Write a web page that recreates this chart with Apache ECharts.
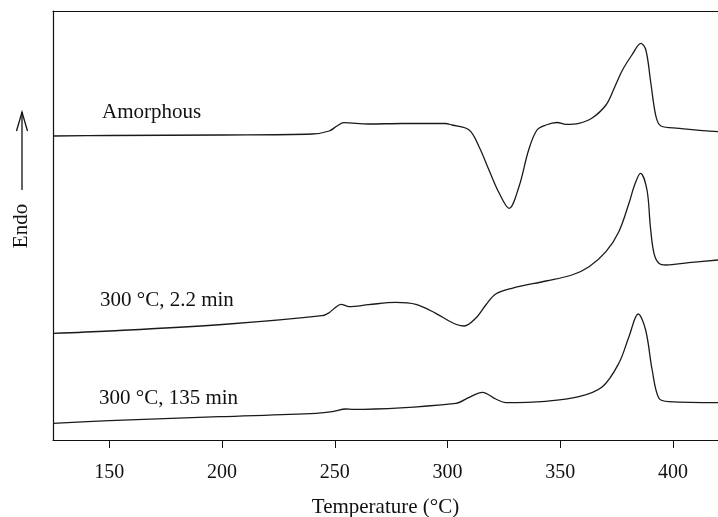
<!DOCTYPE html>
<html>
<head>
<meta charset="utf-8">
<script src="https://cdn.jsdelivr.net/npm/echarts@6/dist/echarts.min.js"></script>
<style>
  html, body { margin: 0; padding: 0; background: #fff; }
  #main { width: 718px; height: 517px; }
</style>
</head>
<body>
<div id="main"></div>
<script>
// DSC traces (y in arbitrary heat-flow units, endo up)
var tempAmorphous = [125, 150, 200, 240, 247.5, 251, 254, 265, 280, 299, 302, 309.6, 314, 318.4, 322.9, 327.3, 331.7, 336, 339.7, 343.7, 348.6, 352.6, 358.3, 364, 370.3, 374, 377.4, 381.8, 385.8, 388, 390.2, 392.5, 394.7, 402.7, 408.4, 420];
var heatAmorphous = [304, 304.5, 305, 306, 309, 314, 317.3, 316, 316.5, 316.5, 315, 310, 293.3, 270, 247, 231.7, 253.3, 290, 310, 315, 317.5, 315.7, 316.7, 321.7, 335, 352, 369, 385, 396.7, 390, 357, 323.3, 314, 311.7, 310.3, 308.3];

var temp22min = [125, 150, 203, 244.4, 247.5, 250, 252.7, 256.4, 265, 277, 286, 294.8, 300.7, 304, 307.4, 312.5, 317, 321.4, 328.6, 343.7, 355.2, 362.8, 370.3, 376, 380.5, 383, 385.6, 388.5, 390, 391.6, 393.8, 396.9, 407, 420];
var heat22min = [106.7, 109, 116, 124.3, 127.3, 132, 135.7, 133.3, 135.3, 137.7, 135.7, 126.7, 119, 115.5, 114, 121.7, 135, 146, 151.7, 159, 165, 173.3, 188.3, 208.3, 236.7, 255, 266.7, 250, 213.3, 186.7, 176.7, 175, 177.3, 180];

var temp135min = [125, 150, 198.8, 241.7, 248.9, 255, 257.7, 303.7, 309.6, 315.5, 321.4, 325.8, 343.6, 358.3, 368.7, 376, 380.5, 384.6, 387.9, 390.8, 393.8, 398.2, 420];
var heat135min = [16.7, 19.3, 23.3, 26.7, 28.3, 31, 30.7, 36.7, 42.7, 47.7, 41, 37.3, 38.7, 43.3, 53.3, 76.7, 103.3, 126, 110, 70, 41.7, 38.3, 37.3];

var traceNames = ['Amorphous', '300 °C, 2.2 min', '300 °C, 135 min'];
var xTicks = [150, 200, 250, 300, 350, 400];

var FONT = '"Liberation Serif", "DejaVu Serif", serif';

function pairs(xs, ys) {
    return xs.map(function(x, i) { return [x, ys[i]]; });
}

function trace(name, xs, ys) {
    return {
        name: name,
        type: 'line',
        data: pairs(xs, ys),
        smooth: 0.35,
        showSymbol: false,
        lineStyle: { color: '#1a1a1a', width: 1.3 }
    };
}

var chart = echarts.init(document.getElementById('main'));
chart.setOption({
    animation: false,
    grid: { left: 53, right: 0, top: 11, bottom: 77, containLabel: false, outerBoundsMode: 'none' },
    xAxis: [{
        type: 'value',
        min: 125,
        max: 420,
        name: 'Temperature (°C)',
        nameLocation: 'middle',
        nameGap: 57,
        nameTextStyle: { fontFamily: FONT, fontSize: 21, color: '#111' },
        axisLine: { lineStyle: { color: '#111', width: 1.2 } },
        axisTick: { show: true, length: 8, lineStyle: { color: '#111' }, customValues: xTicks },
        axisLabel: {
            fontFamily: FONT, fontSize: 20, color: '#111', margin: 23,
            customValues: xTicks
        },
        splitLine: { show: false }
    }, {
        type: 'value',
        position: 'top',
        min: 125,
        max: 420,
        axisLine: { show: true, onZero: false, lineStyle: { color: '#111', width: 1.2 } },
        axisTick: { show: false },
        axisLabel: { show: false },
        splitLine: { show: false }
    }],
    yAxis: {
        type: 'value',
        min: 0,
        max: 429,
        axisLine: { show: true, lineStyle: { color: '#111', width: 1.2 } },
        axisTick: { show: false },
        axisLabel: { show: false },
        splitLine: { show: false }
    },
    series: [
        trace(traceNames[0], tempAmorphous, heatAmorphous),
        trace(traceNames[1], temp22min, heat22min),
        trace(traceNames[2], temp135min, heat135min)
    ],
    graphic: [
        { type: 'text', left: 102, top: 102, style: { text: traceNames[0], font: '21px ' + FONT, fill: '#111' } },
        { type: 'text', left: 100, top: 290, style: { text: traceNames[1], font: '21px ' + FONT, fill: '#111' } },
        { type: 'text', left: 99, top: 388, style: { text: traceNames[2], font: '21px ' + FONT, fill: '#111' } },
        // "Endo" with upward arrow
        { type: 'text', x: 21, y: 226, rotation: Math.PI / 2,
          style: { text: 'Endo', font: '21px ' + FONT, fill: '#111', align: 'center', verticalAlign: 'middle' } },
        { type: 'line', shape: { x1: 22, y1: 190, x2: 22, y2: 112 }, style: { stroke: '#111', lineWidth: 1.3 } },
        { type: 'polyline', shape: { points: [[16.5, 131], [22, 112], [27.5, 131]] }, style: { stroke: '#111', lineWidth: 1.3, fill: null } }
    ]
});
</script>
</body>
</html>
